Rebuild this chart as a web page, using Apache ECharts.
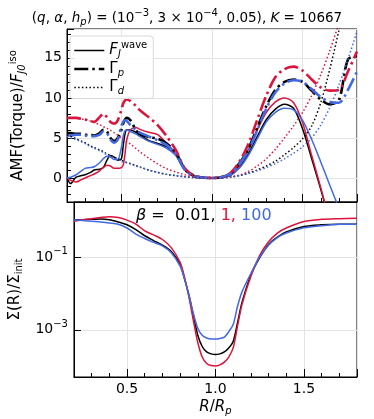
<!DOCTYPE html>
<html>
<head>
<meta charset="utf-8">
<script src="https://cdn.jsdelivr.net/npm/echarts@6/dist/echarts.min.js"></script>
<style>
    html, body { margin: 0; padding: 0; background: #fff; }
    #chart { width: 374px; height: 419px; }
</style>
</head>
<body>
<div id="chart"></div>
<script>
    // radius grid for the torque panel
    const rTop = [0.2, 0.22, 0.25, 0.28, 0.3, 0.33, 0.35, 0.38, 0.4, 0.42,
                  0.44, 0.46, 0.48, 0.5, 0.51, 0.52, 0.53, 0.55, 0.58, 0.6,
                  0.65, 0.7, 0.75, 0.8, 0.85, 0.9, 0.95, 1.0, 1.05, 1.1,
                  1.15, 1.2, 1.25, 1.3, 1.35, 1.4, 1.45, 1.5, 1.55, 1.6,
                  1.65, 1.7, 1.75, 1.8];

    // F_J^wave  (beta = 0.01, 1, 100)
    const fWave001 = [0.0, -0.7, 0.1, 0.3, 0.4, 0.7, 1.0, 1.1, 1.3, 2.2,
                      2.8, 2.6, 2.2, 2.4, 4.0, 5.5, 6.0, 6.0, 5.7, 5.4,
                      4.7, 4.3, 3.9, 2.9, 1.0, 0.25, 0.05, 0, 0.05, 0.3,
                      1.3, 3.0, 5.2, 7.3, 8.6, 9.2, 8.7, 6.1, 2.4, -1.4,
                      -5.5, -9.5, -13.5, -17.5];
    const fWave1 = [0.0, -0.3, -0.5, -0.2, 0.0, 0.3, 0.5, 0.9, 1.3, 1.6,
                    1.5, 1.2, 1.2, 1.3, 1.6, 3.0, 4.8, 6.0, 6.3, 6.1,
                    5.7, 5.4, 4.3, 3.0, 1.1, 0.25, 0.05, 0, 0.05, 0.3,
                    1.5, 3.5, 6.0, 8.2, 9.5, 10.0, 9.4, 6.9, 2.8, -1.2,
                    -5.5, -10, -14, -18];
    const fWave100 = [0.0, 0.1, 0.4, 0.9, 1.2, 1.3, 1.4, 1.9, 2.4, 2.7,
                      2.6, 2.3, 2.3, 3.8, 5.2, 5.9, 6.0, 5.8, 5.5, 5.2,
                      4.6, 4.2, 3.7, 2.8, 1.0, 0.25, 0.05, 0, 0.05, 0.3,
                      1.2, 2.8, 4.9, 7.0, 8.2, 8.7, 8.5, 7.2, 4.8, 2.0,
                      -0.9, -3.8, -7, -10];

    // Gamma_p
    const gammaP001 = [5.6, 5.6, 5.5, 5.5, 5.4, 5.4, 5.3, 5.6, 6.0, 5.8,
                       5.0, 4.6, 5.0, 6.0, 6.8, 7.3, 7.5, 7.2, 6.0, 5.5,
                       5.1, 4.9, 4.3, 3.2, 1.1, 0.25, 0.05, 0, 0.1, 0.5,
                       1.8, 3.6, 6.3, 9.0, 11.0, 12.0, 12.3, 12.0, 10.9, 9.8,
                       9.2, 9.7, 14.8, 15.2];
    const gammaP1 = [7.5, 7.5, 7.5, 7.4, 7.3, 7.1, 7.0, 7.6, 8.0, 7.6,
                     7.0, 6.8, 7.2, 8.5, 9.3, 9.7, 9.8, 9.6, 9.0, 8.5,
                     7.6, 6.6, 5.2, 3.5, 1.2, 0.3, 0.05, 0, 0.1, 0.6,
                     2.0, 4.2, 7.3, 10.3, 12.6, 13.6, 13.9, 13.4, 12.3, 11.3,
                     10.9, 11.0, 13.3, 15.8];
    const gammaP100 = [5.3, 5.3, 5.4, 5.4, 5.3, 5.2, 5.2, 5.4, 5.8, 5.6,
                       4.8, 4.4, 4.8, 6.5, 7.0, 7.2, 7.1, 6.6, 6.0, 5.7,
                       5.2, 4.7, 4.1, 3.0, 1.0, 0.25, 0.05, 0, 0.1, 0.5,
                       1.7, 3.4, 6.0, 8.7, 10.7, 11.8, 12.2, 12.0, 11.1, 10.1,
                       9.5, 9.4, 11.0, 13.3];

    // Gamma_d
    const gammaD001 = [5.4, 5.2, 4.9, 4.6, 4.4, 4.0, 3.8, 3.5, 3.3, 3.0,
                       2.8, 2.6, 2.4, 2.2, 2.1, 2.0, 1.95, 1.8, 1.55, 1.4,
                       1.0, 0.7, 0.45, 0.3, 0.15, 0.05, 0.01, 0, 0.02, 0.1,
                       0.3, 0.6, 1.0, 1.5, 2.1, 2.9, 3.8, 4.9, 6.5, 9.4,
                       13.6, 18.4, 23.5, 29];
    const gammaD1 = [7.5, 7.5, 7.45, 7.35, 7.3, 7.1, 6.95, 6.65, 6.4, 6.2,
                     5.95, 5.65, 5.35, 5.0, 4.85, 4.7, 4.55, 4.25, 3.7, 3.3,
                     2.5, 1.75, 1.15, 0.75, 0.4, 0.15, 0.03, 0, 0.03, 0.15,
                     0.35, 0.8, 1.5, 2.4, 3.6, 5.0, 6.5, 8.2, 10.3, 12.9,
                     15.9, 19.3, 23, 27];
    const gammaD100 = [5.2, 5.0, 4.8, 4.5, 4.3, 3.9, 3.7, 3.4, 3.2, 2.9,
                       2.7, 2.5, 2.3, 2.1, 2.0, 1.95, 1.9, 1.75, 1.5, 1.35,
                       1.0, 0.7, 0.45, 0.3, 0.15, 0.05, 0.01, 0, 0.02, 0.1,
                       0.3, 0.55, 0.9, 1.3, 1.8, 2.4, 3.1, 3.9, 5.0, 6.6,
                       8.8, 11.6, 14.8, 18.3];

    // surface density panel
    const rBot = [0.2, 0.25, 0.3, 0.35, 0.4, 0.45, 0.5, 0.55, 0.6, 0.65,
                  0.7, 0.75, 0.8, 0.825, 0.85, 0.875, 0.9, 0.925, 0.95, 0.975,
                  1.0, 1.025, 1.05, 1.075, 1.1, 1.125, 1.15, 1.2, 1.25, 1.3,
                  1.35, 1.4, 1.5, 1.6, 1.7, 1.8];
    const sigma001 = [1.02, 1.05, 1.07, 1.10, 1.05, 0.91, 0.76, 0.56, 0.38, 0.28,
                      0.21, 0.14, 0.063, 0.025, 0.0089, 0.0025, 7.1e-4, 3.5e-4, 2.5e-4, 2.2e-4,
                      2.1e-4, 2.2e-4, 2.5e-4, 3.2e-4, 4.8e-4, 1.6e-3, 5.6e-3, 0.032, 0.095, 0.22,
                      0.35, 0.48, 0.68, 0.76, 0.79, 0.79];
    const sigma1 = [0.95, 1.05, 1.12, 1.20, 1.26, 1.20, 1.02, 0.79, 0.52, 0.40,
                    0.30, 0.18, 0.071, 0.028, 0.0079, 0.0018, 4.5e-4, 1.8e-4, 1.2e-4, 1.05e-4,
                    1.02e-4, 1.1e-4, 1.3e-4, 1.8e-4, 3.2e-4, 1.3e-3, 5.0e-3, 0.029, 0.11, 0.26,
                    0.45, 0.62, 0.93, 1.07, 1.12, 1.15];
    const sigma100 = [1.02, 1.0, 0.95, 0.91, 0.85, 0.79, 0.62, 0.42, 0.32, 0.25,
                      0.20, 0.13, 0.056, 0.025, 0.0089, 0.0028, 1.1e-3, 7.1e-4, 6.0e-4, 5.6e-4,
                      5.6e-4, 5.8e-4, 6.3e-4, 8.9e-4, 1.4e-3, 4.5e-3, 0.011, 0.035, 0.10, 0.21,
                      0.34, 0.45, 0.63, 0.72, 0.78, 0.79];

    const logTicks = [1e-3, 1e-1];

    const BLACK = '#000000', RED = '#dc143c', BLUE = '#4169e1';
    const FONT = 'DejaVu Sans';

    const styles = {
        solid: { width: 1.5, type: 'solid' },
        dashdot: { width: 2.6, type: [14, 4, 2.5, 4] },
        dotted: { width: 1.5, type: [1.5, 2.3] }
    };

    function pairs(xs, ys) {
        return xs.map((x, i) => [x, ys[i]]);
    }

    function curve(name, xs, ys, color, kind, idx) {
        return {
            name: name,
            type: 'line',
            xAxisIndex: idx,
            yAxisIndex: idx,
            data: pairs(xs, ys),
            showSymbol: false,
            symbol: 'none',
            smooth: 0.3,
            clip: true,
            silent: true,
            itemStyle: { color: color },
            lineStyle: { color: color, width: styles[kind].width, type: styles[kind].type }
        };
    }

    const rich = {
        it: { fontStyle: 'italic' },
        sup: { fontSize: 10, padding: [0, 0, 11, 0] },
        sub: { fontSize: 10, fontStyle: 'italic', padding: [8, 0, 0, 0] },
        subr: { fontSize: 10, padding: [8, 0, 0, 0] }
    };

    const legendLabels = {
        legF: '{it|F}{sub|J}{sup|wave}',
        legP: 'Γ{sub|p}',
        legD: 'Γ{sub|d}'
    };

    const axisBlack = { color: BLACK, width: 1 };
    const gridLine = { show: true, lineStyle: { color: '#e3e3e3', width: 1 } };

    function xAxisCfg(idx, withLabels) {
        return {
            type: 'value', gridIndex: idx, min: 0.2, max: 1.8, splitNumber: 3,
            axisLine: { show: true, onZero: false, lineStyle: axisBlack },
            axisTick: { inside: true, length: 8, lineStyle: axisBlack },
            minorTick: { show: true, splitNumber: 5, length: 4, lineStyle: axisBlack },
            splitLine: gridLine,
            axisLabel: {
                show: withLabels, showMinLabel: false, showMaxLabel: false,
                color: BLACK, fontSize: 14, fontFamily: FONT, margin: 5,
                formatter: v => v.toFixed(1)
            },
            name: withLabels ? '{it|R}/{it|R}{sub|p}' : '',
            nameLocation: 'middle', nameGap: 21,
            nameTextStyle: { color: BLACK, fontSize: 15, fontFamily: FONT, rich: rich }
        };
    }

    const series = [
        curve('F001', rTop, fWave001, BLACK, 'solid', 0),
        curve('F1', rTop, fWave1, RED, 'solid', 0),
        curve('F100', rTop, fWave100, BLUE, 'solid', 0),
        curve('P001', rTop, gammaP001, BLACK, 'dashdot', 0),
        curve('P1', rTop, gammaP1, RED, 'dashdot', 0),
        curve('P100', rTop, gammaP100, BLUE, 'dashdot', 0),
        curve('D001', rTop, gammaD001, BLACK, 'dotted', 0),
        curve('D1', rTop, gammaD1, RED, 'dotted', 0),
        curve('D100', rTop, gammaD100, BLUE, 'dotted', 0),
        curve('S001', rBot, sigma001, BLACK, 'solid', 1),
        curve('S1', rBot, sigma1, RED, 'solid', 1),
        curve('S100', rBot, sigma100, BLUE, 'solid', 1),
        // empty series only for the legend entries
        curve('legF', [], [], BLACK, 'solid', 0),
        curve('legP', [], [], BLACK, 'dashdot', 0),
        curve('legD', [], [], BLACK, 'dotted', 0)
    ];

    const chart = echarts.init(document.getElementById('chart'), null, { renderer: 'canvas' });
    chart.setOption({
        animation: false,
        backgroundColor: '#fff',
        textStyle: { fontFamily: FONT, color: BLACK },
        title: {
            left: 'center', top: 3,
            text: '({it|q}, {it|α}, {it|h}{sub|p}) = (10{sup|−3}, 3 × 10{sup|−4}, 0.05), {it|K} = 10667',
            textStyle: { fontSize: 13.5, fontWeight: 'normal', color: BLACK, fontFamily: FONT, rich: rich }
        },
        legend: {
            data: ['legF', 'legP', 'legD'],
            orient: 'vertical',
            left: 70, top: 36,
            padding: [4, 6, 2, 3],
            itemWidth: 30, itemHeight: 14, itemGap: 2,
            backgroundColor: 'rgba(255,255,255,0.85)',
            borderColor: '#d9d9d9', borderWidth: 1, borderRadius: 3,
            selectedMode: false,
            itemStyle: { opacity: 0 },
            lineStyle: { width: 'inherit', type: 'inherit' },
            formatter: name => legendLabels[name],
            textStyle: { fontSize: 15, color: BLACK, fontFamily: FONT, rich: rich }
        },
        grid: [
            { left: 63, top: 29, width: 294, height: 173, show: true, borderColor: BLACK, borderWidth: 1 },
            { left: 63, top: 202, width: 294, height: 175, show: true, borderColor: BLACK, borderWidth: 1 }
        ],
        xAxis: [xAxisCfg(0, false), xAxisCfg(1, true)],
        yAxis: [
            {
                type: 'value', gridIndex: 0, min: -3, max: 18.6, splitNumber: 4,
                axisLine: { show: true, lineStyle: axisBlack },
                axisTick: { inside: true, length: 7, lineStyle: axisBlack },
                minorTick: { show: true, splitNumber: 5, length: 4, lineStyle: axisBlack },
                splitLine: gridLine,
                axisLabel: { showMinLabel: false, showMaxLabel: false, color: BLACK, fontSize: 14, fontFamily: FONT, margin: 5 },
                name: 'AMF(Torque)/{it|F}{sub|J0}{sup|iso}',
                nameLocation: 'middle', nameRotate: 90, nameGap: 38,
                nameTextStyle: { color: BLACK, fontSize: 15, fontFamily: FONT, rich: rich }
            },
            {
                type: 'log', gridIndex: 1, logBase: 10, min: 5.1e-5, max: 3.2,
                axisLine: { show: true, lineStyle: axisBlack },
                axisTick: { inside: true, length: 7, lineStyle: axisBlack, customValues: logTicks },
                minorTick: { show: false },
                splitLine: gridLine,
                axisLabel: {
                    customValues: logTicks,
                    color: BLACK, fontSize: 14, fontFamily: FONT, margin: 6, rich: rich,
                    formatter: v => '10{sup|−' + Math.round(-Math.log10(v)) + '}'
                },
                name: 'Σ(R)/Σ{subr|init}',
                nameLocation: 'middle', nameRotate: 90, nameGap: 38,
                nameTextStyle: { color: BLACK, fontSize: 15, fontFamily: FONT, rich: rich }
            }
        ],
        graphic: [{
            type: 'text', left: 136, top: 208, silent: true,
            style: {
                text: '{it|β} =  0.01, {r|1,} {b|100}',
                fontSize: 16, fontFamily: FONT, fill: BLACK,
                rich: {
                    it: { fontStyle: 'italic', fontSize: 16, fontFamily: FONT },
                    r: { fill: RED, fontSize: 16, fontFamily: FONT },
                    b: { fill: BLUE, fontSize: 16, fontFamily: FONT }
                }
            }
        }],
        series: series
    });
</script>
</body>
</html>
